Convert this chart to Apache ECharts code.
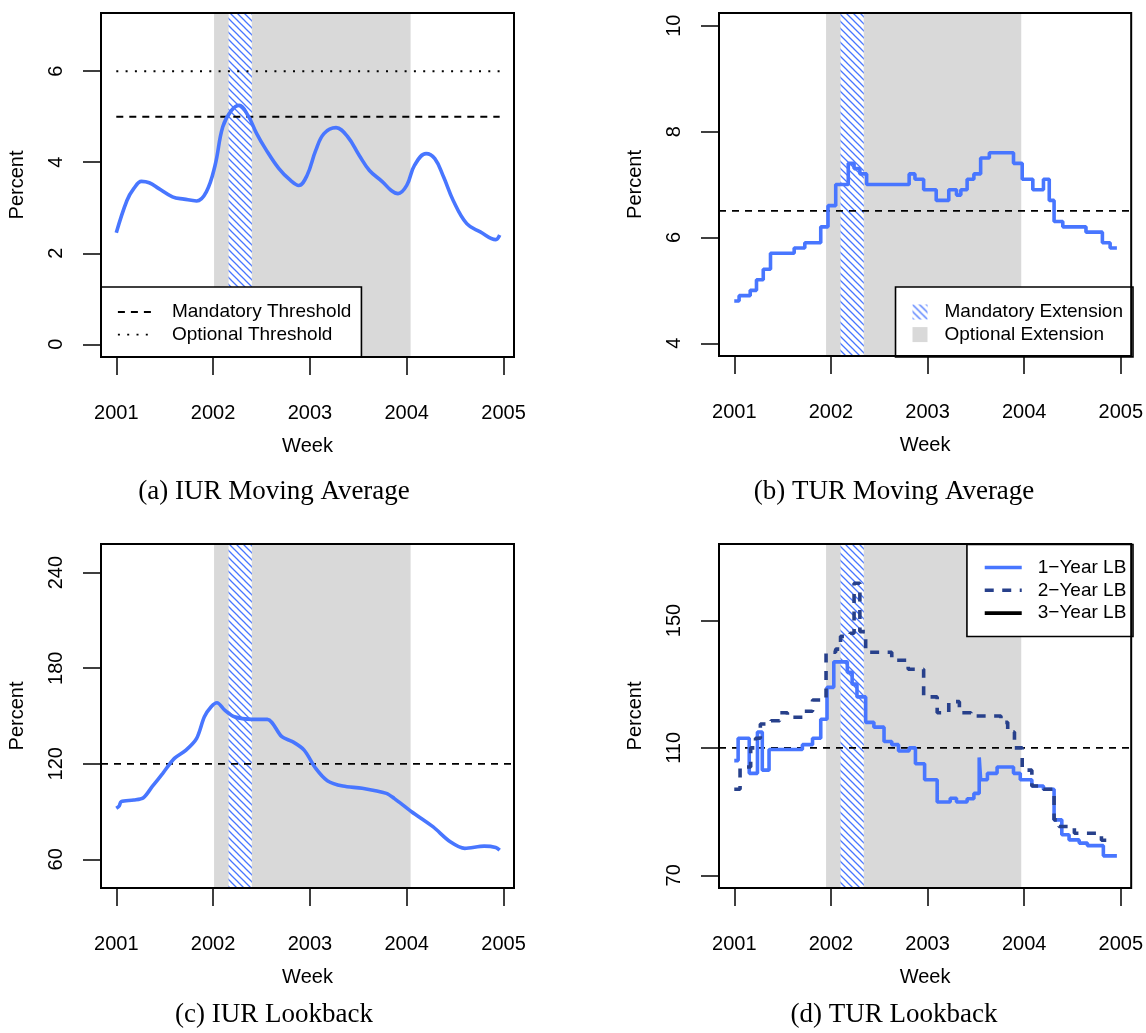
<!DOCTYPE html>
<html><head><meta charset="utf-8">
<script src="https://cdn.jsdelivr.net/npm/echarts@6.0.0/dist/echarts.min.js"></script>
<style>html,body{margin:0;padding:0;background:#fff}#c{width:1146px;height:1033px}</style>
</head><body><div id="c"></div>
<script>
// ---------- data ----------
const yearTicks = [2001, 2002, 2003, 2004, 2005];
const yTicksA = [0, 2, 4, 6];
const yTicksB = [4, 6, 8, 10];
const yTicksC = [60, 120, 180, 240];
const yTicksD = [70, 110, 150];

const captions = ['(a) IUR Moving Average', '(b) TUR Moving Average', '(c) IUR Lookback', '(d) TUR Lookback'];

// extension periods (year fractions)
const optionalExtIUR = [2002.01, 2004.04];
const mandatoryExtIUR = [2002.16, 2002.40];
const optionalExtTUR = [2001.95, 2003.97];
const mandatoryExtTUR = [2002.10, 2002.34];

// thresholds
const mandatoryThrA = 5, optionalThrA = 6, thrStartA = 2001.0, thrEndA = 2004.96;
const thrB = 6.5, thrC = 120, thrD = 110;

// (a) IUR moving average
const iurMaWeek = [2001.00,2001.11,2001.18,2001.26,2001.34,2001.44,2001.58,2001.70,2001.83,2001.93,2002.02,2002.10,2002.19,2002.27,2002.36,2002.45,2002.54,2002.68,2002.80,2002.885,2002.97,2003.06,2003.145,2003.27,2003.39,2003.51,2003.615,2003.75,2003.84,2003.91,2004.00,2004.08,2004.20,2004.29,2004.38,2004.48,2004.62,2004.76,2004.92,2004.96];
const iurMaPct = [2.45,3.16,3.42,3.58,3.55,3.42,3.24,3.19,3.15,3.35,3.93,4.78,5.14,5.25,5.03,4.63,4.30,3.86,3.60,3.49,3.71,4.26,4.63,4.76,4.56,4.15,3.82,3.57,3.38,3.31,3.49,3.93,4.19,4.08,3.68,3.16,2.65,2.47,2.30,2.40];

// (b) TUR moving average (step changes)
const turMaWeek = [2001.00,2001.05,2001.165,2001.23,2001.30,2001.375,2001.62,2001.73,2001.895,2001.97,2002.05,2002.18,2002.24,2002.30,2002.37,2002.81,2002.87,2002.96,2003.09,2003.22,2003.30,2003.345,2003.41,2003.48,2003.55,2003.64,2003.89,2003.98,2004.09,2004.20,2004.26,2004.31,2004.40,2004.64,2004.81,2004.89,2004.96];
const turMaPct = [4.8,4.9,5.0,5.2,5.4,5.7,5.8,5.9,6.2,6.6,7.0,7.4,7.3,7.2,7.0,7.2,7.1,6.9,6.7,6.9,6.8,6.9,7.1,7.2,7.5,7.6,7.4,7.1,6.9,7.1,6.7,6.3,6.2,6.1,5.9,5.8,5.8];

// (c) IUR lookback
const iurLbWeek = [2001.00,2001.03,2001.05,2001.18,2001.28,2001.37,2001.48,2001.60,2001.72,2001.83,2001.91,2001.98,2002.04,2002.12,2002.22,2002.40,2002.56,2002.71,2002.82,2002.94,2003.06,2003.18,2003.34,2003.54,2003.79,2003.87,2004.05,2004.27,2004.45,2004.60,2004.80,2004.92,2004.96];
const iurLbPct = [92,93.5,96.2,97.2,98.7,105.6,114,123.4,128.6,136,149.5,155.8,158.3,153.7,149.5,147.9,147.9,137,133.9,128.6,117.1,109.4,106,104.6,101.4,98.3,89.9,80.5,71,66.9,68.3,67.5,65.8];

// (d) TUR lookback, 1-year (step changes)
const turLb1Week = [2001.00,2001.04,2001.155,2001.24,2001.29,2001.36,2001.705,2001.81,2001.895,2001.96,2002.03,2002.17,2002.22,2002.27,2002.36,2002.445,2002.55,2002.63,2002.70,2002.81,2002.875,2002.97,2003.10,2003.235,2003.30,2003.41,2003.48,2003.535,2003.55,2003.62,2003.72,2003.89,2003.96,2004.08,2004.20,2004.31,2004.39,2004.465,2004.57,2004.655,2004.82,2004.96];
const turLb1Pct = [106,113,102,115,103,109.5,111,113,119,129,137,133.7,130,126,118,116.5,112,111,109,110,105,100,93,94.2,93,94,95.7,107,100,102,104,102,100,98,97,87.4,82.7,81.1,80.1,79.3,76.1,76.1];

// (d) TUR lookback, 2-year (step changes)
const turLb2Week = [2001.00,2001.06,2001.17,2001.22,2001.27,2001.38,2001.47,2001.55,2001.72,2001.81,2001.95,2002.05,2002.10,2002.20,2002.24,2002.30,2002.36,2002.63,2002.80,2002.96,2003.10,2003.22,2003.33,2003.45,2003.76,2003.83,2003.90,2003.98,2004.08,2004.20,2004.31,2004.36,2004.52,2004.80,2004.85];
const turLb2Pct = [97,104,110,113,117.5,118.5,121,119.6,121.5,125,140,141,145,146,161.7,146.5,140,137.5,134.7,126,121,124.5,121,120,118,115,110,103,98,97,87.4,85.3,83.2,81,81];

// 3-year lookback: no values visible in the plot
const turLb3Week = [];
const turLb3Pct = [];

// ---------- styling ----------
const FONT = '"Liberation Sans", Arial, Helvetica, sans-serif';
const SERIF = '"Liberation Serif", "Times New Roman", serif';
const BLUE = '#4876FF', NAVY = '#27408B', GRAY = '#D9D9D9';
const xMin = 2000.842, xMax = 2005.108;

function zip(xs, ys) { return xs.map((x, i) => [x, ys[i]]); }

function hatchCanvas() {
  const p = 7;
  const c = document.createElement('canvas');
  c.width = p; c.height = p;
  const g = c.getContext('2d');
  g.fillStyle = '#fff'; g.fillRect(0, 0, p, p);
  g.strokeStyle = BLUE; g.lineWidth = 1.3;
  g.beginPath();
  g.moveTo(-1, -1); g.lineTo(p + 1, p + 1);
  g.moveTo(-1, p - 1); g.lineTo(1, p + 1);
  g.moveTo(p - 1, -1); g.lineTo(p + 1, 1);
  g.stroke();
  return c;
}
const HATCH = { image: hatchCanvas(), repeat: 'repeat' };

const grids = [
  { left: 101, top: 13, width: 413, height: 344 },
  { left: 719, top: 13, width: 414, height: 343 },
  { left: 101, top: 544, width: 413, height: 344 },
  { left: 719, top: 544, width: 414, height: 344 }
].map(g => Object.assign(g, { show: true, z: 10, borderColor: '#000', borderWidth: 2, backgroundColor: 'rgba(0,0,0,0)', containLabel: false }));

function xAxisFor(i) {
  return {
    type: 'value', gridIndex: i, min: xMin, max: xMax,
    name: 'Week', nameLocation: 'middle', nameGap: 79,
    nameTextStyle: { fontFamily: FONT, fontSize: 20, color: '#000' },
    axisLine: { show: false, onZero: false },
    splitLine: { show: false },
    axisTick: { show: true, length: 18, customValues: yearTicks, lineStyle: { color: '#000', width: 1.5 } },
    axisLabel: { customValues: yearTicks, margin: 46, fontFamily: FONT, fontSize: 20, color: '#000', formatter: v => String(Math.round(v)) }
  };
}
function yAxisFor(i, min, max, ticks) {
  return {
    type: 'value', gridIndex: i, min: min, max: max,
    name: 'Percent', nameLocation: 'middle', nameGap: 74, nameRotate: 90,
    nameTextStyle: { fontFamily: FONT, fontSize: 20, color: '#000' },
    axisLine: { show: false, onZero: false },
    splitLine: { show: false },
    axisTick: { show: true, length: 18, customValues: ticks, lineStyle: { color: '#000', width: 1.5 } },
    axisLabel: { customValues: ticks, rotate: 90, margin: 35, fontFamily: FONT, fontSize: 20, color: '#000', formatter: v => String(Math.round(v)) }
  };
}

function bandItem(params, api) {
  const cs = params.coordSys;
  const a = api.coord([api.value(0), 0])[0];
  const b = api.coord([api.value(1), 0])[0];
  return { type: 'rect', shape: { x: a, y: cs.y, width: b - a, height: cs.height }, style: api.style() };
}
function band(i, name, range, color) {
  return { type: 'custom', name: name, xAxisIndex: i, yAxisIndex: i, renderItem: bandItem, silent: true, z: 1,
    data: [range], encode: { x: [0, 1] }, itemStyle: { color: color } };
}
function hline(i, name, data, type) {
  return { type: 'line', name: name, xAxisIndex: i, yAxisIndex: i, data: data, symbol: 'none', silent: true, z: 2,
    lineStyle: { color: '#000', width: 1.8, type: type }, itemStyle: { color: '#000' } };
}
function curve(i, name, data, opts) {
  return Object.assign({ type: 'line', name: name, xAxisIndex: i, yAxisIndex: i, data: data, symbol: 'none', silent: true, z: 3,
    lineStyle: { color: BLUE, width: 3.6 }, itemStyle: { color: BLUE } }, opts || {});
}

const DASH = [7, 6];
const series = [
  // (a)
  band(0, 'Optional Extension', optionalExtIUR, GRAY),
  band(0, 'Mandatory Extension', mandatoryExtIUR, HATCH),
  hline(0, 'Mandatory Threshold', [[thrStartA, mandatoryThrA], [thrEndA, mandatoryThrA]], DASH),
  hline(0, 'Optional Threshold', [[thrStartA, optionalThrA], [thrEndA, optionalThrA]], [2, 7.3]),
  curve(0, 'IUR Moving Average', zip(iurMaWeek, iurMaPct), { smooth: 0.4 }),
  // (b)
  band(1, 'Optional Extension', optionalExtTUR, GRAY),
  band(1, 'Mandatory Extension', mandatoryExtTUR, HATCH),
  hline(1, 'TUR MA threshold', [[xMin, thrB], [xMax, thrB]], DASH),
  curve(1, 'TUR Moving Average', zip(turMaWeek, turMaPct), { step: 'end' }),
  // (c)
  band(2, 'Optional Extension', optionalExtIUR, GRAY),
  band(2, 'Mandatory Extension', mandatoryExtIUR, HATCH),
  hline(2, 'IUR LB threshold', [[xMin, thrC], [xMax, thrC]], DASH),
  curve(2, 'IUR Lookback', zip(iurLbWeek, iurLbPct), { smooth: 0.3 }),
  // (d)
  band(3, 'Optional Extension', optionalExtTUR, GRAY),
  band(3, 'Mandatory Extension', mandatoryExtTUR, HATCH),
  hline(3, 'TUR LB threshold', [[xMin, thrD], [xMax, thrD]], DASH),
  curve(3, '1\u2212Year LB', zip(turLb1Week, turLb1Pct), { step: 'end' }),
  curve(3, '2\u2212Year LB', zip(turLb2Week, turLb2Pct), { step: 'end', z: 4, lineStyle: { color: NAVY, width: 3.6, type: [9, 8.5] }, itemStyle: { color: NAVY } }),
  curve(3, '3\u2212Year LB', zip(turLb3Week, turLb3Pct), { lineStyle: { color: '#000', width: 3.6 }, itemStyle: { color: '#000' } })
];

const legendBase = { show: true, orient: 'vertical', itemGap: 0, backgroundColor: '#fff', borderColor: '#000', borderWidth: 1.6, borderRadius: 0, selectedMode: false };
const legends = [
  Object.assign({}, legendBase, { left: 101, top: 287, data: ['Mandatory Threshold', 'Optional Threshold'], itemWidth: 36, itemHeight: 14,
    itemStyle: { opacity: 0 }, lineStyle: { width: 1.8 },
    padding: [13.7, 10, 11, 16], textStyle: { fontFamily: FONT, fontSize: 19, color: '#000', lineHeight: 22.6, padding: [0, 0, 0, 13] } }),
  Object.assign({}, legendBase, { right: 13, top: 287, data: ['Mandatory Extension', 'Optional Extension'], icon: 'rect', itemWidth: 15, itemHeight: 15,
    padding: [13.7, 10, 11, 17], textStyle: { fontFamily: FONT, fontSize: 19, color: '#000', lineHeight: 22.6, padding: [0, 0, 0, 12] } }),
  Object.assign({}, legendBase, { right: 13, top: 544.5, data: ['1\u2212Year LB', '2\u2212Year LB', '3\u2212Year LB'], itemWidth: 37, itemHeight: 14,
    itemStyle: { opacity: 0 }, lineStyle: { width: 3.6 },
    padding: [11.6, 6.7, 12, 16], textStyle: { fontFamily: FONT, fontSize: 19, color: '#000', lineHeight: 22.8, padding: [0, 0, 0, 11] } })
];

const capPos = [[274, 492], [894, 492], [274, 1015], [894, 1015]];
const graphic = captions.map((t, i) => ({
  type: 'text', x: capPos[i][0], y: capPos[i][1], silent: true,
  style: { text: t, fontFamily: SERIF, fontSize: 27, fill: '#000', align: 'center', verticalAlign: 'middle' }
}));

const chart = echarts.init(document.getElementById('c'), null, { renderer: 'canvas' });
chart.setOption({
  animation: false,
  backgroundColor: '#fff',
  textStyle: { fontFamily: FONT },
  grid: grids,
  xAxis: [0, 1, 2, 3].map(xAxisFor),
  yAxis: [
    yAxisFor(0, -0.28, 7.28, yTicksA),
    yAxisFor(1, 3.76, 10.24, yTicksB),
    yAxisFor(2, 42, 258, yTicksC),
    yAxisFor(3, 66, 174, yTicksD)
  ],
  legend: legends,
  graphic: graphic,
  series: series
});
</script></body></html>
